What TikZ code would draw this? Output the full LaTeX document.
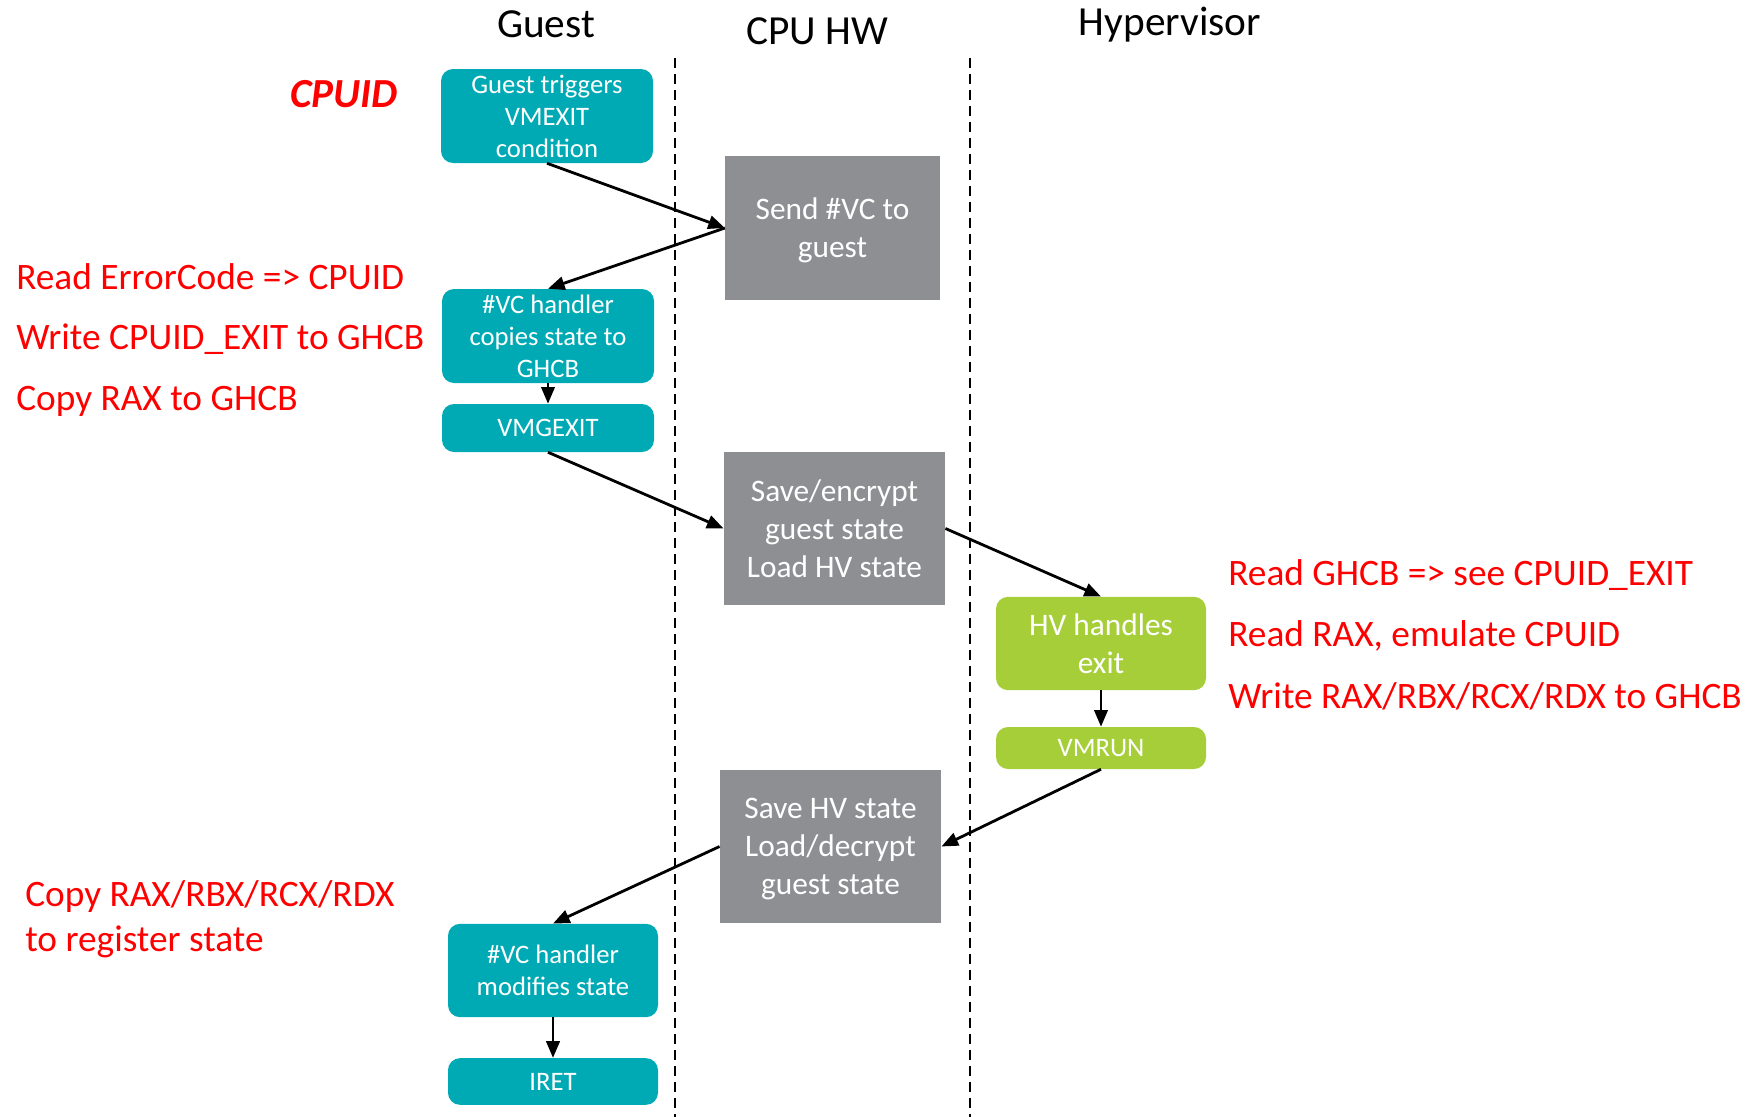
\documentclass[tikz,border=0pt]{standalone}
\usepackage{fontspec}
\setmainfont{Carlito}
\usetikzlibrary{arrows.meta}
\definecolor{guestteal}{RGB}{0,170,180}
\definecolor{hvgreen}{RGB}{166,206,57}
\definecolor{hwgray}{RGB}{142,143,147}
\definecolor{notered}{RGB}{255,0,0}
\tikzset{
  lane/.style={draw=black, line width=1.4pt, dash pattern=on 7.5pt off 4.5pt},
  flow/.style={draw=black, line width=2.1pt, -{Triangle[length=12.5pt,width=10pt]}},
  guestbox/.style={fill=guestteal, rounded corners=9pt, text=white, align=center, inner sep=0pt,
    font=\fontsize{20}{24}\selectfont},
  hvbox/.style={fill=hvgreen, rounded corners=9pt, text=white, align=center, inner sep=0pt},
  hwbox/.style={fill=hwgray, text=white, align=center, inner sep=0pt, text depth=0pt,
    font=\fontsize{23.5}{28.5}\selectfont},
  title/.style={anchor=base, inner sep=0pt, font=\fontsize{31}{36}\selectfont},
  note/.style={anchor=base west, inner sep=0pt, text=notered, font=\fontsize{28}{34}\selectfont},
}
\begin{document}
\begin{tikzpicture}[x=0.75pt, y=-0.75pt]
\useasboundingbox (0,0) rectangle (1750,1117);

% column headings
\node[title] (tguest) at (546,37) {Guest};
\node[title] (thw) at (817,45) {CPU HW};
\node[title] (thv) at (1170,36) {Hypervisor};

% lane separators
\coordinate (l1top) at (675,58);
\coordinate (l1bot) at (675,1117);
\coordinate (l2top) at (970,58);
\coordinate (l2bot) at (970,1117);
\draw[lane] (l1top) -- (l1bot);
\draw[lane] (l2top) -- (l2bot);

% boxes
\node[guestbox, minimum width=159pt, minimum height=70.5pt] (trig) at (547,116)
  {Guest triggers\\VMEXIT\\condition};
\node[hwbox, minimum width=161pt, minimum height=108pt] (sendvc) at (832.5,228)
  {Send \#VC to\\guest};
\node[guestbox, minimum width=159pt, minimum height=70.5pt] (copyst) at (548,336)
  {\#VC handler\\copies state to\\GHCB};
\node[guestbox, minimum width=159pt, minimum height=36pt] (vmgexit) at (548,428)
  {VMGEXIT};
\node[hwbox, minimum width=166pt, minimum height=115pt] (saveenc) at (834.5,528.5)
  {Save/encrypt\\guest state\\Load HV state};
\node[hvbox, minimum width=157.5pt, minimum height=70pt,
  font=\fontsize{23.5}{28.5}\selectfont] (hvexit) at (1101,643.5)
  {HV handles\\exit};
\node[hvbox, minimum width=157.5pt, minimum height=31.5pt,
  font=\fontsize{20}{24}\selectfont] (vmrun) at (1101,748)
  {VMRUN};
\node[hwbox, minimum width=166pt, minimum height=115pt] (savehv) at (830.5,846.5)
  {Save HV state\\Load/decrypt\\guest state};
\node[guestbox, minimum width=157.5pt, minimum height=70pt] (modst) at (553,970.5)
  {\#VC handler\\modifies state};
\node[guestbox, minimum width=157.5pt, minimum height=35pt] (iret) at (553,1081.5)
  {IRET};

% flow
\draw[flow] (trig.south) -- (sendvc.west);
\draw[flow] (sendvc.west) -- (copyst.north);
\draw[flow] (copyst.south) -- (vmgexit.north);
\draw[flow] (vmgexit.south) -- (saveenc.west);
\draw[flow] (saveenc.east) -- (hvexit.north);
\draw[flow] (hvexit.south) -- (vmrun.north);
\draw[flow] (vmrun.south) -- (savehv.east);
\draw[flow] (savehv.west) -- (modst.north);
\draw[flow] (modst.south) -- (iret.north);

% annotations
\node[anchor=base west, inner sep=0pt, text=notered,
  font=\fontsize{31}{36}\selectfont\bfseries\itshape] (cpuid) at (290,107) {CPUID};
\node[note] (n1) at (16,289) {Read ErrorCode => CPUID};
\node[note] (n2) at (16,349) {Write CPUID\_EXIT to GHCB};
\node[note] (n3) at (16,410) {Copy RAX to GHCB};
\node[note] (n4) at (1228,585) {Read GHCB => see CPUID\_EXIT};
\node[note] (n5) at (1228,646) {Read RAX, emulate CPUID};
\node[note] (n6) at (1228,708) {Write RAX/RBX/RCX/RDX to GHCB};
\node[note] (n7) at (25,906) {Copy RAX/RBX/RCX/RDX};
\node[note] (n8) at (25,951) {to register state};
\end{tikzpicture}
\end{document}
